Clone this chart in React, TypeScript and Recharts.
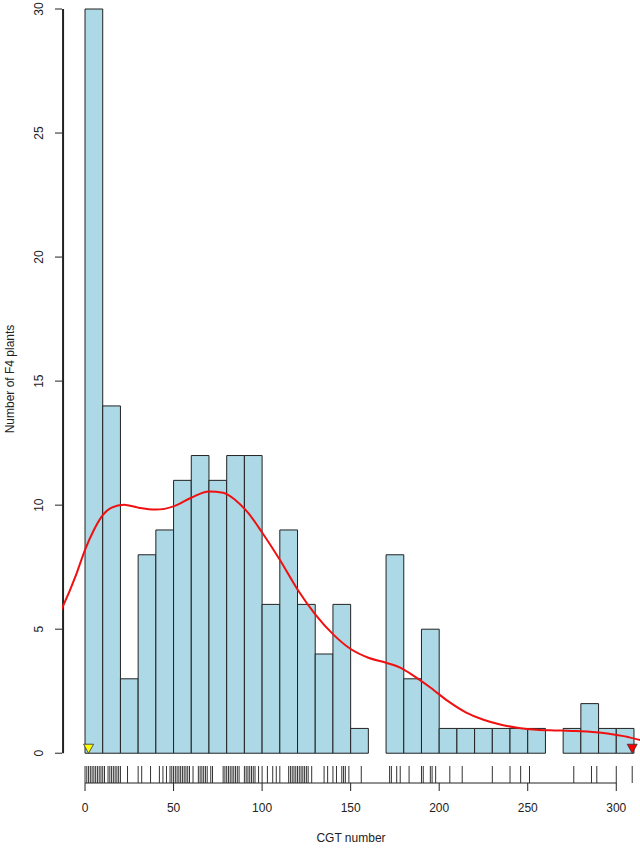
import React from 'react';
import { ComposedChart, XAxis, YAxis, Line, Scatter, ReferenceArea, ReferenceLine } from 'recharts';

// histogram bins (width 10) and counts
const binStarts = [0, 10, 20, 30, 40, 50, 60, 70, 80, 90, 100, 110, 120, 130, 140, 150, 160, 170, 180, 190, 200, 210, 220, 230, 240, 250, 260, 270, 280, 290, 300];
const binCounts = [30, 14, 3, 8, 9, 11, 12, 11, 12, 12, 6, 9, 6, 4, 6, 1, 0, 8, 3, 5, 1, 1, 1, 1, 1, 1, 0, 1, 2, 1, 1];

// smoothed density curve (scaled to counts)
const densityX = [-14, -12, -5, 0, 5, 10, 15, 22, 30, 40, 50, 60, 70, 78, 85, 92, 100, 110, 120, 130, 140, 150, 160, 170, 178, 185, 195, 205, 215, 225, 235, 245, 255, 265, 275, 285, 295, 305, 314];
const densityY = [5.7, 6.0, 7.2, 8.2, 9.0, 9.6, 9.9, 10.02, 9.9, 9.82, 9.95, 10.3, 10.55, 10.5, 10.2, 9.7, 8.9, 7.8, 6.6, 5.6, 4.8, 4.2, 3.85, 3.65, 3.45, 3.15, 2.65, 2.1, 1.65, 1.35, 1.15, 1.02, 0.95, 0.92, 0.9, 0.87, 0.8, 0.68, 0.52];

// rug (observed CGT numbers)
const rugValues = [0, 1, 2, 3, 4, 5, 6, 7, 8, 9, 10, 11, 13, 14, 15, 16, 17, 18, 19, 20, 24, 30, 32, 37, 42, 44, 46, 48, 49, 50, 51, 52, 53, 54, 55, 56, 57, 58, 59, 61, 64, 65, 66, 67, 68, 69, 71, 72, 78, 79, 80, 81, 82, 83, 84, 85, 86, 87, 90, 91, 92, 93, 94, 95, 96, 98, 100, 103, 106, 108, 110, 115, 116, 117, 118, 119, 120, 121, 122, 123, 124, 125, 126, 128, 135, 137, 140, 142, 145, 146, 147, 149, 156, 172, 173, 176, 178, 183, 190, 191, 195, 196, 198, 206, 213, 230, 240, 246, 251, 276, 286, 289, 300, 309];

// parent markers
const lowParent = [2];
const highParent = [309];

const xTicks = [0, 50, 100, 150, 200, 250, 300];
const yTicks = [0, 5, 10, 15, 20, 25, 30];

const X_MIN = -13;
const Y_AXIS_AT = -12.4;
const Y_MIN = -1.2;
const FONT = '"Liberation Sans", Arial, Helvetica, sans-serif';
const INK = '#222';

const densityData = densityX.map((x, i) => ({ x, y: densityY[i] }));
const rugData = rugValues.map(x => ({ x, y: Y_MIN }));

const YTick = (props: any) => {
    const { y, payload } = props;
    return (
        <text x={39} y={y} transform={`rotate(-90 39 ${y})`} textAnchor="middle" dominantBaseline="central"
            fontSize={12} fill={INK} fontFamily={FONT}>
            {payload.value}
        </text>
    );
};

const XTick = (props: any) => {
    const { x, payload } = props;
    return (
        <text x={x} y={808} textAnchor="middle" dominantBaseline="central" fontSize={12} fill={INK} fontFamily={FONT}>
            {payload.value}
        </text>
    );
};

const YTitle = () => (
    <text x={10} y={379} transform="rotate(-90 10 379)" textAnchor="middle" dominantBaseline="central"
        fontSize={12} fill={INK} fontFamily={FONT}>
        Number of F4 plants
    </text>
);

const RugTick = (props: any) => (
    <line x1={props.cx} x2={props.cx} y1={props.cy - 17} y2={props.cy} stroke="#333" strokeWidth={1} />
);

const triangle = (fill: string) => (props: any) => {
    const { cx, cy } = props;
    return <polygon points={`${cx - 5},${cy - 9} ${cx + 5},${cy - 9} ${cx},${cy}`} fill={fill} stroke="#333" strokeWidth={0.8} />;
};

export default function App() {
    return (
        <div style={{ position: 'absolute', left: 0, top: 0, width: 640, height: 848, background: '#fff' }}>
            <ComposedChart width={640} height={848} margin={{ top: 9, right: 0, bottom: 0, left: 0 }}>
                <XAxis dataKey="x" type="number" domain={[X_MIN, 313.4]} allowDataOverflow ticks={xTicks}
                    axisLine={false} tickLine={{ stroke: INK }} tickSize={8} height={65} tick={<XTick />}
                    label={{ value: 'CGT number', position: 'insideBottom', offset: 6, fontSize: 12, fill: INK, fontFamily: FONT }} />
                <YAxis dataKey="y" type="number" domain={[Y_MIN, 30]} allowDataOverflow ticks={yTicks}
                    axisLine={false} tickLine={{ stroke: INK }} tickSize={7} width={62} tick={<YTick />}
                    label={{ content: <YTitle /> }} />

                {/* axis lines that only span the tick range, like base R */}
                <ReferenceLine segment={[{ x: 0, y: Y_MIN }, { x: 300, y: Y_MIN }]} stroke={INK} ifOverflow="visible" />
                <ReferenceLine segment={[{ x: Y_AXIS_AT, y: 0 }, { x: Y_AXIS_AT, y: 30 }]} stroke={INK} strokeWidth={2} ifOverflow="visible" />

                {binStarts.map((s, i) => binCounts[i] > 0 && (
                    <ReferenceArea key={s} x1={s} x2={s + 10} y1={0} y2={binCounts[i]}
                        fill="#add8e6" fillOpacity={1} stroke={INK} strokeWidth={1} ifOverflow="visible" />
                ))}

                <Scatter data={rugData} shape={RugTick} isAnimationActive={false} />
                <Line data={densityData} dataKey="y" type="monotone" stroke="#f01010" strokeWidth={2}
                    dot={false} activeDot={false} isAnimationActive={false} />
                <Scatter data={lowParent.map(x => ({ x, y: 0 }))} shape={triangle('#ffff00')} isAnimationActive={false} />
                <Scatter data={highParent.map(x => ({ x, y: 0 }))} shape={triangle('#ff0000')} isAnimationActive={false} />
            </ComposedChart>
        </div>
    );
}
